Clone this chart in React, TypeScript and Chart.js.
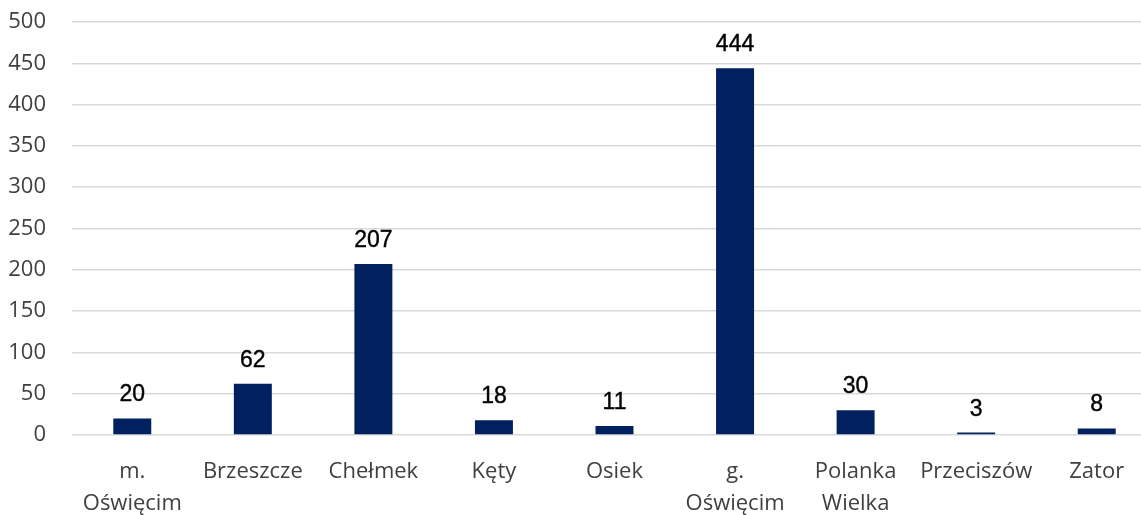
import React, { useEffect, useRef } from "react";
import { Chart, registerables } from "chart.js";

Chart.register(...registerables);

const categories: (string | string[])[] = [
  ["m.", "Oświęcim"],
  "Brzeszcze",
  "Chełmek",
  "Kęty",
  "Osiek",
  ["g.", "Oświęcim"],
  ["Polanka", "Wielka"],
  "Przeciszów",
  "Zator",
];
const values: number[] = [20, 62, 207, 18, 11, 444, 30, 3, 8];
const yMin = 0;
const yMax = 500;
const yStep = 50;

const valueLabels = {
  id: "valueLabels",
  afterDatasetsDraw(chart: any) {
    const ctx = chart.ctx;
    const meta = chart.getDatasetMeta(0);
    ctx.save();
    ctx.font = "23px 'Liberation Sans', Arial, sans-serif";
    ctx.fillStyle = "#000000";
    ctx.strokeStyle = "#000000";
    ctx.lineWidth = 0.4;
    ctx.textAlign = "center";
    ctx.textBaseline = "alphabetic";
    meta.data.forEach((el: any, i: number) => {
      const t = String(values[i]);
      ctx.fillText(t, el.x, el.y - 17);
      ctx.strokeText(t, el.x, el.y - 17);
    });
    ctx.restore();
  },
};

export default function App() {
  const ref = useRef<HTMLCanvasElement | null>(null);
  useEffect(() => {
    if (!ref.current) return;
    const chart = new Chart(ref.current, {
      type: "bar",
      data: {
        labels: categories,
        datasets: [
          {
            data: values,
            backgroundColor: "#002060",
            barPercentage: 0.315,
            categoryPercentage: 1,
          },
        ],
      },
      options: {
        animation: false,
        responsive: false,
        devicePixelRatio: 1,
        layout: { padding: { left: 8, top: 0, right: 0, bottom: 0 } },
        plugins: {
          legend: { display: false },
          tooltip: { enabled: false },
        },
        scales: {
          x: {
            grid: { display: false, drawTicks: false },
            border: { display: false },
            afterFit: (scale: any) => {
              scale.height = 80;
            },
            ticks: {
              color: "#404040",
              padding: 21,
              maxRotation: 0,
              autoSkip: false,
              font: { family: "'Open Sans', sans-serif", size: 22, lineHeight: 1.45 },
            },
          },
          y: {
            min: yMin,
            max: yMax,
            grid: { color: "#d9d9d9", lineWidth: 1.5, drawTicks: false },
            border: { display: false },
            afterFit: (scale: any) => {
              scale.width = 64;
              scale.paddingTop = 22;
              scale.paddingBottom = 0;
            },
            ticks: {
              stepSize: yStep,
              color: "#404040",
              padding: 26,
              font: { family: "'Open Sans', sans-serif", size: 22 },
            },
          },
        },
      },
      plugins: [valueLabels],
    });
    return () => chart.destroy();
  }, []);
  return (
    <div
      style={{
        position: "fixed",
        left: 0,
        top: 0,
        width: 1141,
        height: 515,
        overflow: "hidden",
        background: "#ffffff",
      }}
    >
      <canvas ref={ref} width={1157} height={515} style={{ display: "block" }} />
    </div>
  );
}
